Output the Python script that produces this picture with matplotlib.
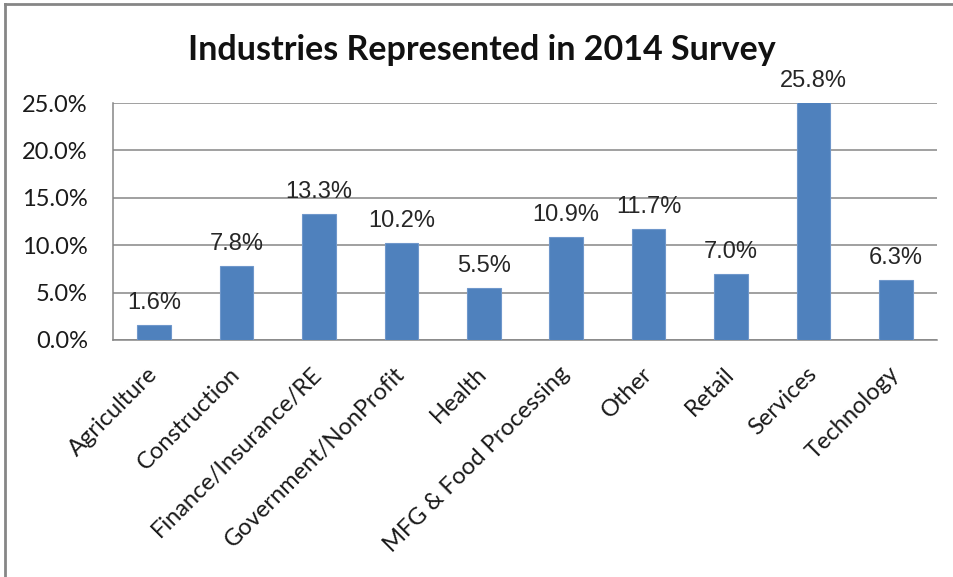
import matplotlib
matplotlib.use("Agg")
import matplotlib.pyplot as plt
from matplotlib.lines import Line2D
from matplotlib.ticker import FuncFormatter, MultipleLocator

industries = ["Agriculture", "Construction", "Finance/Insurance/RE",
              "Government/NonProfit", "Health", "MFG & Food Processing",
              "Other", "Retail", "Services", "Technology"]
shares = [1.6, 7.8, 13.3, 10.2, 5.5, 10.9, 11.7, 7.0, 25.8, 6.3]
y_max = 25.0

W, H = 954, 577
fig = plt.figure(figsize=(W / 100, H / 100), dpi=100)
fig.patch.set_facecolor("white")

# chart-area outline (top and left edges visible)
fig.add_artist(Line2D([5 / W, 5 / W], [0, 1 - 4 / H], transform=fig.transFigure,
                      color="#868686", lw=2))
fig.add_artist(Line2D([5 / W, 1], [1 - 4 / H, 1 - 4 / H], transform=fig.transFigure,
                      color="#868686", lw=2))

left, right = 113 / W, 937 / W
bottom, top = 1 - 340 / H, 1 - 103 / H
ax = fig.add_axes([left, bottom, right - left, top - bottom])

x = range(len(industries))
ax.bar(x, shares, width=0.41, color="#4F81BD", edgecolor="#6F97CB",
       linewidth=0.8, zorder=3)

ax.set_xlim(-0.5, len(industries) - 0.5)
ax.set_ylim(0, y_max)
ax.yaxis.set_major_locator(MultipleLocator(5))
ax.yaxis.set_major_formatter(FuncFormatter(lambda v, _: f"{v:.1f}%"))
ax.grid(axis="y", color="#868686", lw=1.1, zorder=0)
ax.set_axisbelow(True)

for side in ("top", "right"):
    ax.spines[side].set_visible(False)
for side in ("left", "bottom"):
    ax.spines[side].set_color("#868686")
    ax.spines[side].set_linewidth(1.1)

ax.tick_params(axis="y", length=0, pad=18, labelsize=17, labelcolor="#1a1a1a")
ax.tick_params(axis="x", length=0)
for lab in ax.get_yticklabels():
    lab.set_fontfamily("Lato")

ax.set_xticks(list(x))
ax.set_xticklabels(industries, rotation=45, ha="right", va="center",
                   rotation_mode="anchor", fontsize=17, family="Lato",
                   color="#1a1a1a")
ax.tick_params(axis="x", pad=22)

for xi, v in zip(x, shares):
    ax.annotate(f"{v:.1f}%", xy=(xi, min(v, y_max)), xytext=(0, 8),
                textcoords="offset points", ha="center", va="bottom",
                fontsize=17, family="Liberation Sans", color="#262626",
                annotation_clip=False, zorder=4)

fig.text(482 / W, 1 - 50 / H, "Industries Represented in 2014 Survey",
         ha="center", va="center", fontsize=24.5, fontweight="bold",
         family="Lato", color="#111111")

fig.savefig("out.png", dpi=100, facecolor="white")
